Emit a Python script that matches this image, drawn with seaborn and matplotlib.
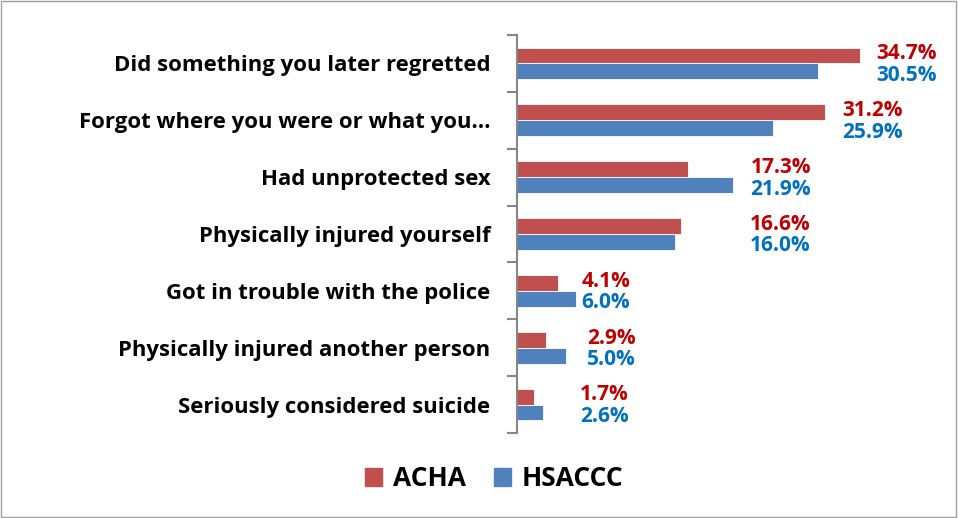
import seaborn as sns
import matplotlib.pyplot as plt
import pandas as pd
from matplotlib.patches import Rectangle

sns.set_style("white")
plt.rcParams['font.family'] = ['Open Sans', 'DejaVu Sans']
plt.rcParams['text.color'] = 'black'
plt.rcParams['ytick.labelcolor'] = 'black'

categories = [
    "Did something you later regretted",
    "Forgot where you were or what you\u2026",
    "Had unprotected sex",
    "Physically injured yourself",
    "Got in trouble with the police",
    "Physically injured another person",
    "Seriously considered suicide",
]
acha = [34.7, 31.2, 17.3, 16.6, 4.1, 2.9, 1.7]
hsaccc = [30.5, 25.9, 21.9, 16.0, 6.0, 5.0, 2.6]
series = ["ACHA", "HSACCC"]

# where the value labels sit (data units), per group
label_x = [36.3, 32.9, 23.6, 23.5, 6.5, 7.1, 6.4]

df = pd.DataFrame({
    "category": categories * 2,
    "value": acha + hsaccc,
    "survey": ["ACHA"] * len(acha) + ["HSACCC"] * len(hsaccc),
})

bar_colors = {"ACHA": "#C0504D", "HSACCC": "#4F81BD"}
text_colors = {"ACHA": "#C00000", "HSACCC": "#0070C0"}

fig = plt.figure(figsize=(9.58, 5.18), dpi=100)
ax = fig.add_axes([517 / 958, 85 / 518, 395.4 / 958, 398 / 518])

sns.barplot(data=df, y="category", x="value", hue="survey", hue_order=series,
            order=categories, palette=bar_colors, saturation=1, width=0.56, orient="h",
            edgecolor="white", linewidth=0.6, ax=ax, legend=False)

ax.set_xlim(0, 40)
ax.set_ylim(len(categories) - 0.5, -0.5)
ax.set_xlabel("")
ax.set_ylabel("")
ax.set_xticks([])
ax.set_yticks([i - 0.5 for i in range(len(categories) + 1)], minor=False)
ax.set_yticklabels([])
ax.set_yticks(range(len(categories)), minor=True)
ax.set_yticklabels(categories, minor=True, fontsize=15.9, fontweight="bold", color="black")
ax.tick_params(axis="y", which="major", direction="out", length=7, width=1.5, color="#868686", left=True)
ax.tick_params(axis="y", which="minor", length=0, pad=19)
for s in ["top", "right", "bottom"]:
    ax.spines[s].set_visible(False)
ax.spines["left"].set_color("#868686")
ax.spines["left"].set_linewidth(1.5)

for i, (a, h) in enumerate(zip(acha, hsaccc)):
    ax.text(label_x[i], i - 0.17, f"{a:.1f}%", color=text_colors["ACHA"], fontsize=15,
            fontweight="bold", va="center", ha="left", clip_on=False)
    ax.text(label_x[i], i + 0.21, f"{h:.1f}%", color=text_colors["HSACCC"], fontsize=15,
            fontweight="bold", va="center", ha="left", clip_on=False)

handles = [Rectangle((0, 0), 1, 1, color=bar_colors[s]) for s in series]
leg = fig.legend(handles, series, loc="center", bbox_to_anchor=(494 / 958, 1 - 479 / 518),
                 ncol=2, frameon=False, handlelength=0.65, handleheight=0.65,
                 columnspacing=1.05, handletextpad=0.42,
                 prop={"size": 19, "weight": "bold"})
for t in leg.get_texts():
    t.set_color("black")

fig.patches.append(Rectangle((0.001, 0.002), 0.997, 0.996, transform=fig.transFigure,
                             fill=False, edgecolor="#A0A0A0", linewidth=1))

fig.savefig("out.png", dpi=100)
